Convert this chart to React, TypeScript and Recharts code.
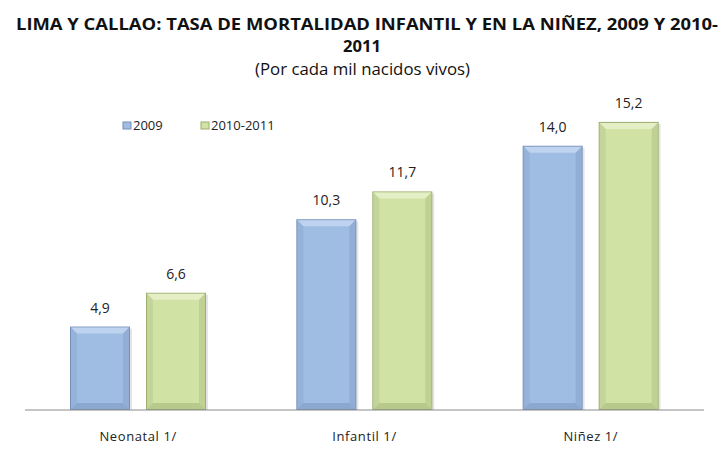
import React from 'react';
import { BarChart, Bar, XAxis, YAxis, Legend, LabelList } from 'recharts';

// Tasas por cada mil nacidos vivos
const categories = ['Neonatal 1/', 'Infantil 1/', 'Niñez 1/'];
const values2009 = [4.9, 10.3, 14.0];
const values2010 = [6.6, 11.7, 15.2];
const seriesNames = ['2009', '2010-2011'];

const data = categories.map((name, i) => ({
  name,
  s2009: values2009[i],
  s2010: values2010[i],
}));

const FONT = '"Open Sans", "Noto Sans", sans-serif';

const palette = {
  blue: { main: '#9FBCE2', light: '#BED3EF', dark: '#86A2CC', edge: '#7590BA' },
  green: { main: '#D1E2A5', light: '#E4EFC5', dark: '#B2C386', edge: '#9CAE70' },
};

const fmt = (v: number) => v.toFixed(1).replace('.', ',');

function BevelBar(props: any) {
  const { x, y, width, height, tone } = props;
  const c = palette[tone as 'blue' | 'green'];
  const b = 6;
  if (!height || height <= 0) return null;
  return (
    <g>
      <rect x={x + 2} y={y + 2} width={width} height={height} fill="#000" opacity={0.1} />
      <rect x={x} y={y} width={width} height={height} fill={c.edge} />
      <rect x={x + 1} y={y + 1} width={width - 2} height={height - 2} fill={c.main} />
      <polygon
        points={`${x + 1},${y + 1} ${x + width - 1},${y + 1} ${x + width - 1 - b},${y + 1 + b} ${x + 1 + b},${y + 1 + b}`}
        fill={c.light}
      />
      <polygon
        points={`${x + 1},${y + 1} ${x + 1 + b},${y + 1 + b} ${x + 1 + b},${y + height - 1 - b} ${x + 1},${y + height - 1}`}
        fill={c.dark}
        opacity={0.4}
      />
      <polygon
        points={`${x + width - 1},${y + 1} ${x + width - 1 - b},${y + 1 + b} ${x + width - 1 - b},${y + height - 1 - b} ${x + width - 1},${y + height - 1}`}
        fill={c.dark}
        opacity={0.55}
      />
      <polygon
        points={`${x + 1},${y + height - 1} ${x + 1 + b},${y + height - 1 - b} ${x + width - 1 - b},${y + height - 1 - b} ${x + width - 1},${y + height - 1}`}
        fill={c.dark}
        opacity={0.8}
      />
    </g>
  );
}

function CategoryTick(props: any) {
  const { x, payload } = props;
  return (
    <text x={x} y={441} textAnchor="middle" fontFamily={FONT} fontSize={13} fill="#222" letterSpacing={0.6}>
      {payload.value}
    </text>
  );
}

function LegendBox() {
  const items = [
    { label: seriesNames[0], c: palette.blue, x: 0 },
    { label: seriesNames[1], c: palette.green, x: 78 },
  ];
  return (
    <svg width={200} height={16} style={{ overflow: 'visible' }}>
      {items.map((it) => (
        <g key={it.label}>
          <rect x={it.x} y={4} width={8} height={7} fill={it.c.main} stroke={it.c.edge} strokeWidth={1} />
          <text x={it.x + 10} y={12} fontFamily={FONT} fontSize={13} fill="#222">
            {it.label}
          </text>
        </g>
      ))}
    </svg>
  );
}

export default function App() {
  return (
    <div style={{ position: 'absolute', left: 0, top: 0, width: 724, height: 454, background: '#fff' }}>
      <svg width={724} height={100} style={{ position: 'absolute', left: 0, top: 0 }}>
        <text x={16} y={30} fontFamily={FONT} fontWeight={700} fontSize={16} fill="#111" textLength={702} lengthAdjust="spacingAndGlyphs">
          LIMA Y CALLAO: TASA DE MORTALIDAD INFANTIL Y EN LA NIÑEZ, 2009 Y 2010-
        </text>
        <text x={362} y={52} textAnchor="middle" fontFamily={FONT} fontWeight={700} fontSize={16} fill="#111" textLength={38} lengthAdjust="spacingAndGlyphs">
          2011
        </text>
        <text x={255} y={75} fontFamily={FONT} fontSize={17} fill="#111" textLength={215} lengthAdjust="spacingAndGlyphs">
          (Por cada mil nacidos vivos)
        </text>
      </svg>
      <BarChart
        width={724}
        height={454}
        data={data}
        margin={{ top: 86, right: 20, bottom: 0, left: 25 }}
        barCategoryGap={45}
        barGap={16}
      >
        <XAxis
          dataKey="name"
          height={44}
          tickLine={false}
          axisLine={{ stroke: '#8C8C8C', strokeWidth: 1.2 }}
          tick={<CategoryTick />}
        />
        <YAxis hide domain={[0.7, 16]} allowDataOverflow />
        <Legend
          verticalAlign="top"
          content={<LegendBox />}
          wrapperStyle={{ position: 'absolute', left: 123, top: 118, width: 200 }}
        />
        <Bar dataKey="s2009" name={seriesNames[0]} isAnimationActive={false} shape={<BevelBar tone="blue" />}>
          <LabelList dataKey="s2009" position="top" offset={14} formatter={fmt} fontFamily={FONT} fontSize={14} fill="#222" />
        </Bar>
        <Bar dataKey="s2010" name={seriesNames[1]} isAnimationActive={false} shape={<BevelBar tone="green" />}>
          <LabelList dataKey="s2010" position="top" offset={14} formatter={fmt} fontFamily={FONT} fontSize={14} fill="#222" />
        </Bar>
      </BarChart>
    </div>
  );
}
